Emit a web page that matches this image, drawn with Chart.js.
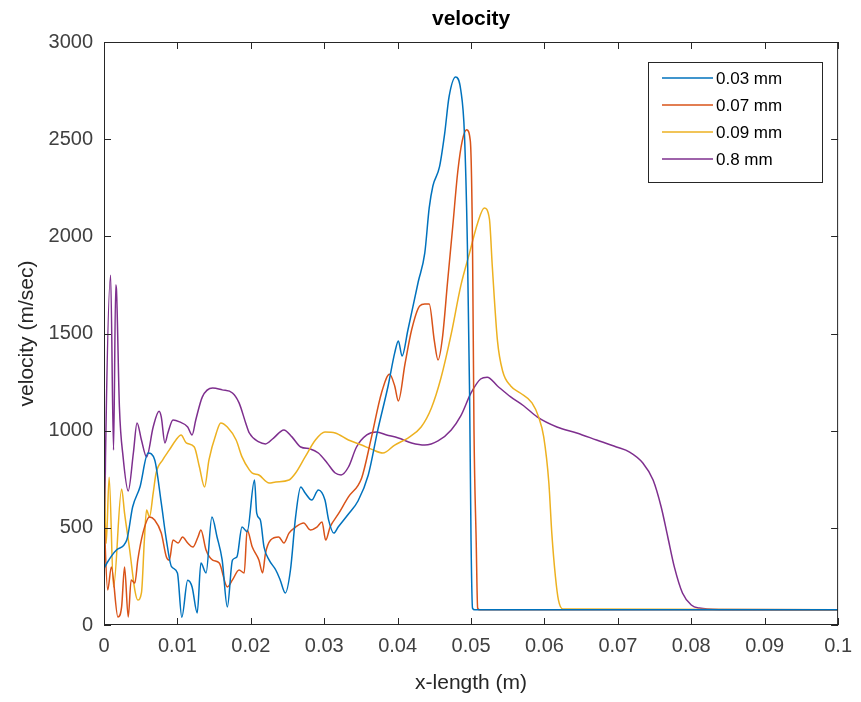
<!DOCTYPE html>
<html>
<head>
<meta charset="utf-8">
<script src="https://cdn.jsdelivr.net/npm/chart.js@4.4.0/dist/chart.umd.min.js"></script>
<style>
  html, body { margin: 0; padding: 0; background: #fff; }
</style>
</head>
<body>
<canvas id="mycanvas" width="861" height="702"></canvas>
<script>
// tick labels
var xTicks = [0, 0.01, 0.02, 0.03, 0.04, 0.05, 0.06, 0.07, 0.08, 0.09, 0.1];
var yTicks = [0, 500, 1000, 1500, 2000, 2500, 3000];

// 0.03 mm
var x003 = [0, 0.0004, 0.0017, 0.0031, 0.0039, 0.0049, 0.0060, 0.0069, 0.0078, 0.0085, 0.0092, 0.0100, 0.0106, 0.0114, 0.0120, 0.0127, 0.0132, 0.0139, 0.0147, 0.0154, 0.0161, 0.0168, 0.0175, 0.0181, 0.0188, 0.0195, 0.0205, 0.0208, 0.0213, 0.0218, 0.0225, 0.0234, 0.0240, 0.0247, 0.0254, 0.0261, 0.0268, 0.0274, 0.0283, 0.0292, 0.0301, 0.0306, 0.0313, 0.0319, 0.0333, 0.0346, 0.0360, 0.0373, 0.0387, 0.0396, 0.0401, 0.0406, 0.0414, 0.0428, 0.0437, 0.0443, 0.0448, 0.0457, 0.0464, 0.0470, 0.0479, 0.0486, 0.0491, 0.0495, 0.0498, 0.0500, 0.0502, 0.0505, 0.1];
var v003 = [290, 319, 386, 437, 607, 710, 885, 850, 628, 437, 300, 268, 40, 230, 196, 62, 319, 268, 556, 453, 334, 93, 334, 350, 504, 480, 746, 576, 540, 401, 334, 283, 232, 165, 283, 556, 710, 679, 643, 695, 643, 540, 473, 504, 571, 638, 772, 1004, 1230, 1400, 1462, 1384, 1518, 1765, 1915, 2146, 2259, 2357, 2527, 2717, 2820, 2753, 2527, 1956, 1194, 432, 87, 78, 78];

// 0.07 mm
var x007 = [0, 0.0005, 0.0010, 0.0019, 0.0024, 0.0028, 0.0033, 0.0037, 0.0042, 0.0046, 0.0053, 0.0062, 0.0069, 0.0078, 0.0085, 0.0089, 0.0094, 0.0101, 0.0107, 0.0114, 0.0121, 0.0128, 0.0132, 0.0139, 0.0148, 0.0157, 0.0168, 0.0175, 0.0184, 0.0191, 0.0195, 0.0202, 0.0211, 0.0216, 0.0220, 0.0227, 0.0238, 0.0245, 0.0252, 0.0261, 0.0272, 0.0281, 0.0290, 0.0297, 0.0302, 0.0308, 0.0319, 0.0333, 0.0351, 0.0364, 0.0378, 0.0389, 0.0396, 0.0401, 0.0410, 0.0419, 0.0430, 0.0437, 0.0443, 0.0450, 0.0455, 0.0461, 0.0468, 0.0475, 0.0482, 0.0488, 0.0494, 0.0499, 0.0502, 0.0504, 0.0507, 0.0509, 0.0512, 0.1];
var v007 = [560, 180, 298, 41, 93, 298, 41, 232, 216, 334, 473, 556, 540, 473, 350, 334, 437, 422, 453, 422, 401, 453, 489, 386, 334, 319, 196, 232, 283, 268, 489, 401, 334, 268, 370, 437, 453, 422, 473, 504, 525, 489, 504, 530, 437, 504, 570, 659, 757, 960, 1194, 1290, 1230, 1153, 1343, 1518, 1642, 1652, 1652, 1462, 1364, 1477, 1765, 2048, 2336, 2491, 2548, 2491, 1956, 1004, 432, 87, 78, 78];

// 0.09 mm
var x009 = [0, 0.0003, 0.0007, 0.0013, 0.0024, 0.0028, 0.0035, 0.0042, 0.0046, 0.0051, 0.0055, 0.0058, 0.0062, 0.0067, 0.0071, 0.0080, 0.0089, 0.0098, 0.0105, 0.0112, 0.0123, 0.0130, 0.0137, 0.0143, 0.0153, 0.0159, 0.0168, 0.0180, 0.0188, 0.0198, 0.0202, 0.0211, 0.0225, 0.0234, 0.0252, 0.0261, 0.0274, 0.0288, 0.0301, 0.0315, 0.0333, 0.0351, 0.0364, 0.0380, 0.0396, 0.0414, 0.0432, 0.0446, 0.0459, 0.0473, 0.0486, 0.0498, 0.0509, 0.0518, 0.0525, 0.0529, 0.0536, 0.0543, 0.0554, 0.0567, 0.0583, 0.0592, 0.0599, 0.0606, 0.0610, 0.0615, 0.0619, 0.0625, 0.1];
var v009 = [850, 420, 760, 196, 700, 576, 386, 180, 129, 165, 437, 592, 556, 679, 782, 850, 901, 952, 978, 937, 916, 813, 710, 850, 988, 1040, 1019, 952, 865, 798, 782, 772, 731, 736, 746, 782, 865, 952, 993, 988, 952, 926, 905, 885, 926, 962, 1019, 1117, 1271, 1498, 1745, 1915, 2069, 2146, 2090, 1842, 1462, 1307, 1230, 1194, 1143, 1071, 968, 731, 473, 247, 129, 82, 78];

// 0.8 mm
var x08 = [0, 0.0002, 0.0009, 0.0013, 0.0016, 0.0017, 0.0021, 0.0026, 0.0033, 0.0040, 0.0045, 0.0051, 0.0058, 0.0067, 0.0075, 0.0078, 0.0083, 0.0087, 0.0094, 0.0103, 0.0114, 0.0120, 0.0125, 0.0134, 0.0148, 0.0161, 0.0175, 0.0184, 0.0193, 0.0198, 0.0211, 0.0220, 0.0231, 0.0245, 0.0256, 0.0268, 0.0281, 0.0292, 0.0304, 0.0315, 0.0323, 0.0333, 0.0344, 0.0358, 0.0371, 0.0385, 0.0401, 0.0419, 0.0437, 0.0455, 0.0473, 0.0486, 0.0500, 0.0513, 0.0522, 0.0536, 0.0554, 0.0572, 0.0590, 0.0617, 0.0644, 0.0671, 0.0698, 0.0716, 0.0734, 0.0748, 0.0759, 0.0768, 0.0777, 0.0788, 0.0800, 0.0811, 0.0840, 0.1];
var v08 = [160, 850, 1800, 900, 1750, 1724, 1122, 865, 690, 885, 1040, 952, 865, 1019, 1100, 1071, 937, 988, 1055, 1045, 1019, 978, 1055, 1174, 1220, 1210, 1194, 1143, 1040, 988, 942, 932, 962, 1004, 968, 916, 906, 885, 834, 782, 772, 813, 916, 978, 993, 978, 962, 937, 926, 947, 1004, 1076, 1194, 1266, 1275, 1230, 1174, 1127, 1071, 1019, 988, 952, 916, 890, 834, 746, 607, 453, 298, 165, 103, 87, 80, 78];

var labels = ["0.03 mm", "0.07 mm", "0.09 mm", "0.8 mm"];
var colors = ["#0072BD", "#D95319", "#EDB120", "#7E2F8E"];

function pts(xs, ys) {
  var out = [];
  for (var i in xs) out.push({ x: xs[i], y: ys[i] });
  return out;
}

var series = [pts(x003, v003), pts(x007, v007), pts(x009, v009), pts(x08, v08)];
var datasets = [];
for (var i in series) {
  datasets.push({
    label: labels[i],
    data: series[i],
    borderColor: colors[i],
    backgroundColor: colors[i],
    borderWidth: 1.5,
    pointRadius: 0,
    fill: false,
    cubicInterpolationMode: 'monotone'
  });
}

var FONT = "'Liberation Sans', Arial, sans-serif";
var TXT = "#404040";

// axes box, inward ticks, title and legend drawn like the MATLAB figure
var framePlugin = {
  id: 'frame',
  afterDraw: function(chart) {
    var c = chart.ctx, a = chart.chartArea;
    var xs = chart.scales.x, ys = chart.scales.y;
    c.save();
    c.strokeStyle = "#262626";
    c.lineWidth = 1;
    c.strokeRect(a.left + 0.5, a.top + 0.5, a.right - a.left - 1, a.bottom - a.top - 1);
    c.beginPath();
    xTicks.forEach(function(t) {
      var px = Math.round(xs.getPixelForValue(t)) + 0.5;
      c.moveTo(px, a.bottom); c.lineTo(px, a.bottom - 7);
      c.moveTo(px, a.top); c.lineTo(px, a.top + 7);
    });
    yTicks.forEach(function(t) {
      var py = Math.round(ys.getPixelForValue(t)) + 0.5;
      c.moveTo(a.left, py); c.lineTo(a.left + 7, py);
      c.moveTo(a.right, py); c.lineTo(a.right - 7, py);
    });
    c.stroke();

    // title
    c.fillStyle = "#000";
    c.font = "bold 21px " + FONT;
    c.textAlign = "center";
    c.textBaseline = "middle";
    c.fillText("velocity", (a.left + a.right) / 2, 19);

    // legend
    var lx = 648, ly = 62, lw = 174, lh = 120;
    c.fillStyle = "#fff";
    c.fillRect(lx, ly, lw, lh);
    c.strokeStyle = "#262626";
    c.strokeRect(lx + 0.5, ly + 0.5, lw, lh);
    c.font = "17px " + FONT;
    c.textAlign = "left";
    chart.data.datasets.forEach(function(ds, k) {
      var yy = ly + 16 + k * 27;
      c.strokeStyle = ds.borderColor;
      c.lineWidth = 1.5;
      c.beginPath();
      c.moveTo(lx + 14, yy); c.lineTo(lx + 65, yy);
      c.stroke();
      c.fillStyle = "#000";
      c.fillText(ds.label, lx + 68, yy + 1);
    });
    c.restore();
  }
};

var ctx = document.getElementById("mycanvas");
var LineGraph = new Chart(ctx, {
  type: 'line',
  data: { datasets: datasets },
  plugins: [framePlugin],
  options: {
    responsive: false,
    animation: false,
    devicePixelRatio: 1,
    layout: { padding: { top: 42, right: 18, left: 0, bottom: 0 } },
    plugins: { legend: { display: false }, tooltip: { enabled: false } },
    scales: {
      x: {
        type: 'linear', min: 0, max: 0.1,
        afterBuildTicks: function(s) { s.ticks = xTicks.map(function(v) { return { value: v }; }); },
        afterFit: function(s) { s.height = 77; },
        grid: { display: false, drawTicks: false },
        border: { display: false },
        ticks: {
          padding: 9, color: TXT, autoSkip: false, maxRotation: 0,
          font: { size: 20, family: FONT },
          callback: function(v) { return String(+v.toFixed(2)); }
        },
        title: { display: true, text: 'x-length (m)', color: "#262626", font: { size: 21, family: FONT }, padding: { top: 0, bottom: 6 } }
      },
      y: {
        type: 'linear', min: 0, max: 3000,
        afterBuildTicks: function(s) { s.ticks = yTicks.map(function(v) { return { value: v }; }); },
        afterFit: function(s) { s.width = 104; },
        grid: { display: false, drawTicks: false },
        border: { display: false },
        ticks: {
          padding: 11, color: TXT, font: { size: 20, family: FONT },
          callback: function(v) { return String(v); }
        },
        title: { display: true, text: 'velocity (m/sec)', color: "#262626", font: { size: 21, family: FONT }, padding: { top: 15, bottom: 0 } }
      }
    }
  }
});
</script>
</body>
</html>
